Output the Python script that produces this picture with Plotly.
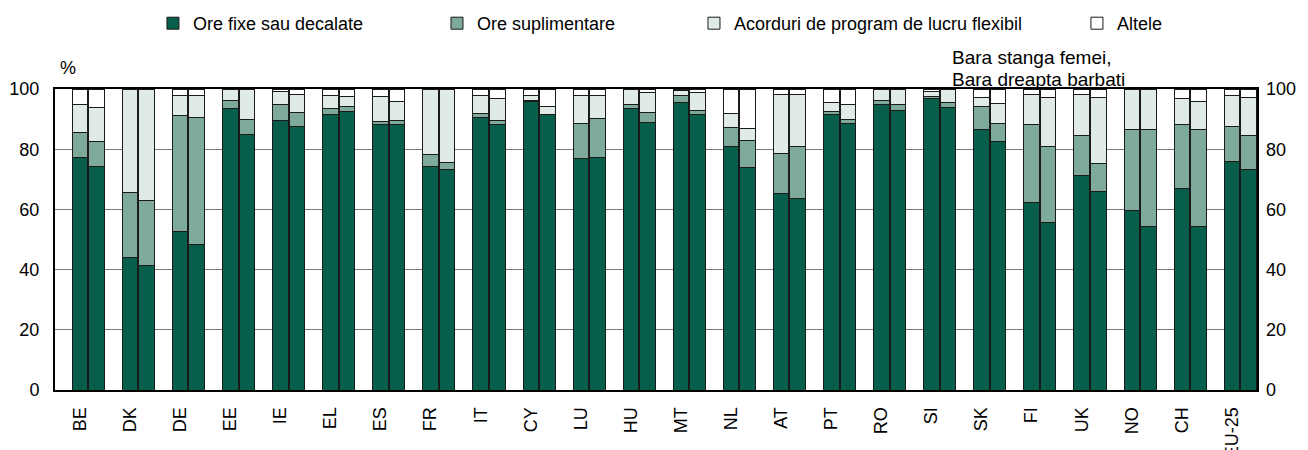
import plotly.graph_objects as go

countries = ["BE", "DK", "DE", "EE", "IE", "EL", "ES", "FR", "IT", "CY", "LU", "HU",
             "MT", "NL", "AT", "PT", "RO", "SI", "SK", "FI", "UK", "NO", "CH", "EU-25"]

# femei (bara stanga)
fixe_f = [77.4, 44.1, 52.8, 93.4, 89.6, 91.4, 88.3, 74.3, 90.6, 96.0, 76.9, 93.4,
          95.6, 80.9, 65.3, 91.5, 94.9, 96.9, 86.6, 62.3, 71.4, 59.5, 67.0, 76.0]
supl_f = [8.2, 21.5, 38.3, 2.8, 5.3, 2.1, 1.0, 4.1, 1.4, 0.3, 11.5, 1.4,
          2.2, 6.3, 13.3, 0.9, 1.2, 0.6, 7.6, 26.0, 13.2, 26.9, 21.3, 11.5]
flex_f = [9.2, 34.4, 6.8, 3.8, 4.2, 4.4, 8.2, 21.6, 5.9, 1.4, 9.5, 4.9,
          1.7, 4.7, 19.5, 3.1, 3.9, 1.8, 2.9, 9.8, 13.5, 13.6, 8.6, 10.5]
alte_f = [5.2, 0.0, 2.1, 0.0, 0.9, 2.1, 2.5, 0.0, 2.1, 2.3, 2.1, 0.3,
          0.5, 8.1, 1.9, 4.5, 0.0, 0.7, 2.9, 1.9, 1.9, 0.0, 3.1, 2.0]

# barbati (bara dreapta)
fixe_m = [74.4, 41.2, 48.2, 84.8, 87.5, 92.4, 88.2, 73.1, 88.2, 91.4, 77.3, 88.9,
          91.6, 74.0, 63.6, 88.6, 92.9, 93.9, 82.5, 55.7, 65.9, 54.4, 54.4, 73.4]
supl_m = [8.1, 21.6, 42.4, 5.1, 4.7, 1.7, 1.3, 2.4, 1.2, 0.2, 12.8, 3.3,
          1.4, 8.8, 17.2, 1.3, 2.0, 1.6, 6.2, 25.1, 9.3, 32.0, 32.0, 11.3]
flex_m = [11.4, 37.2, 7.3, 10.1, 6.1, 3.4, 6.5, 24.5, 7.5, 2.6, 7.8, 6.6,
          5.9, 4.0, 17.5, 4.8, 5.1, 4.2, 6.4, 16.3, 22.0, 13.6, 9.3, 12.4]
alte_m = [6.1, 0.0, 2.1, 0.0, 1.7, 2.5, 4.0, 0.0, 3.1, 5.8, 2.1, 1.2,
          1.1, 13.2, 1.7, 5.3, 0.0, 0.3, 4.9, 2.9, 2.8, 0.0, 4.3, 2.9]

series = [
    ("Ore fixe sau decalate", fixe_f, fixe_m, "#065E4B", "legend"),
    ("Ore suplimentare", supl_f, supl_m, "#7DAA9B", "legend2"),
    ("Acorduri de program de lucru flexibil", flex_f, flex_m, "#E1EBE6", "legend3"),
    ("Altele", alte_f, alte_m, "#FFFFFF", "legend4"),
]

FONT = "Liberation Sans, Arial, sans-serif"

# women bar at category centre, men bar just to the right
xs = []
for i in range(len(countries)):
    xs += [i, i + 0.33]

fig = go.Figure()
for name, f, m, col, leg in series:
    ys = []
    for a, b in zip(f, m):
        ys += [a, b]
    fig.add_trace(go.Bar(
        x=xs, y=ys, name=name, width=0.31,
        marker=dict(color=col, line=dict(color="#1a1a1a", width=1)),
        legend=leg,
    ))

# dummy trace so the right-hand axis gets drawn
fig.add_trace(go.Scatter(x=[0], y=[0], yaxis="y2", mode="markers",
                         marker=dict(opacity=0), showlegend=False, hoverinfo="skip"))

leg_common = dict(orientation="h", yanchor="middle", y=1.2176, xanchor="left",
                  font=dict(family=FONT, size=18, color="#000"),
                  bgcolor="rgba(0,0,0,0)", borderwidth=0)

# page body adds an 8px offset, margins are shifted to compensate
fig.update_layout(
    width=1308, height=450,
    margin=dict(l=47, r=59, t=81, b=68, autoexpand=False),
    barmode="stack",
    showlegend=True,
    plot_bgcolor="white", paper_bgcolor="white",
    font=dict(family=FONT, size=18, color="#000"),
    legend=dict(x=0.0815, **leg_common),
    legend2=dict(x=0.3178, **leg_common),
    legend3=dict(x=0.5316, **leg_common),
    legend4=dict(x=0.8502, **leg_common),
    xaxis=dict(
        range=[-0.5, 23.5], tickvals=list(range(len(countries))), ticktext=countries,
        tickangle=-90, showgrid=False, showline=True, linecolor="#000", linewidth=2,
        mirror=True, ticks="", ticklabelstandoff=8,
        tickfont=dict(family=FONT, size=18),
    ),
    yaxis=dict(
        range=[0, 100], tickvals=[0, 20, 40, 60, 80, 100], showgrid=True,
        gridcolor="#7a7a7a", gridwidth=1, showline=True, linecolor="#000",
        linewidth=2, mirror=True, ticks="", ticklabelstandoff=10, zeroline=False,
    ),
    yaxis2=dict(
        range=[0, 100], tickvals=[0, 20, 40, 60, 80, 100], overlaying="y",
        side="right", anchor="x", showgrid=False, showline=False, ticks="",
        ticklabelstandoff=8, zeroline=False,
    ),
    annotations=[
        dict(text="%", x=0.0108, y=1.0698, xref="paper", yref="paper",
             xanchor="center", yanchor="middle", showarrow=False),
        dict(text="Bara stanga femei,", x=0.7446, y=1.1063,
             xref="paper", yref="paper", xanchor="left", yanchor="middle",
             showarrow=False, font=dict(size=19)),
        dict(text="Bara dreapta barbati", x=0.7446, y=1.0332,
             xref="paper", yref="paper", xanchor="left", yanchor="middle",
             showarrow=False, font=dict(size=19)),
    ],
)

fig.write_html("out.html")
